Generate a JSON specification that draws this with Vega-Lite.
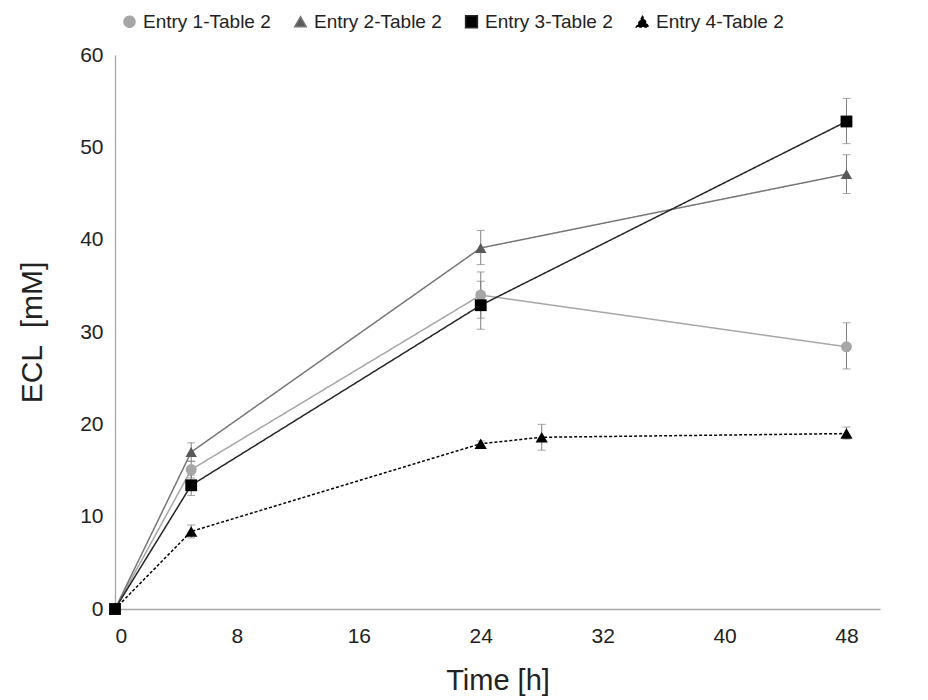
{
  "$schema": "https://vega.github.io/schema/vega-lite/v6.json",
  "width": 765,
  "height": 554,
  "autosize": "none",
  "padding": {"left": 115, "top": 55, "right": 48, "bottom": 91},
  "background": "white",
  "data": {
    "values": [
      {"series": "Entry 1-Table 2", "t": 0, "y": 0, "lo": null, "hi": null},
      {"series": "Entry 1-Table 2", "t": 5, "y": 15.1, "lo": 14.2, "hi": 16.0},
      {"series": "Entry 1-Table 2", "t": 24, "y": 34.0, "lo": 31.5, "hi": 36.5},
      {"series": "Entry 1-Table 2", "t": 48, "y": 28.4, "lo": 26.0, "hi": 31.0},
      {"series": "Entry 2-Table 2", "t": 0, "y": 0, "lo": null, "hi": null},
      {"series": "Entry 2-Table 2", "t": 5, "y": 17.0, "lo": 16.0, "hi": 18.0},
      {"series": "Entry 2-Table 2", "t": 24, "y": 39.1, "lo": 37.3, "hi": 41.0},
      {"series": "Entry 2-Table 2", "t": 48, "y": 47.1, "lo": 45.0, "hi": 49.2},
      {"series": "Entry 3-Table 2", "t": 0, "y": 0, "lo": null, "hi": null},
      {"series": "Entry 3-Table 2", "t": 5, "y": 13.4, "lo": 12.3, "hi": 14.5},
      {"series": "Entry 3-Table 2", "t": 24, "y": 32.9, "lo": 30.3, "hi": 35.5},
      {"series": "Entry 3-Table 2", "t": 48, "y": 52.8, "lo": 50.4, "hi": 55.3},
      {"series": "Entry 4-Table 2", "t": 0, "y": 0, "lo": null, "hi": null},
      {"series": "Entry 4-Table 2", "t": 5, "y": 8.4, "lo": 7.7, "hi": 9.1},
      {"series": "Entry 4-Table 2", "t": 24, "y": 17.9, "lo": 17.6, "hi": 18.2},
      {"series": "Entry 4-Table 2", "t": 28, "y": 18.6, "lo": 17.2, "hi": 20.0},
      {"series": "Entry 4-Table 2", "t": 48, "y": 19.0, "lo": 18.4, "hi": 19.7}
    ]
  },
  "config": {
    "view": {"stroke": null},
    "font": "Liberation Sans",
    "axis": {
      "grid": false,
      "ticks": false,
      "domainColor": "#a6a6a6",
      "domainWidth": 1.3,
      "labelColor": "#222222",
      "titleColor": "#222222",
      "titleFontWeight": "normal"
    }
  },
  "encoding": {
    "x": {
      "field": "t",
      "type": "quantitative",
      "scale": {"domain": [0, 50.2], "nice": false},
      "axis": {
        "values": [0, 8, 16, 24, 32, 40, 48],
        "title": "Time [h]",
        "titleFontSize": 29,
        "labelFontSize": 21,
        "labelPadding": 16,
        "titlePadding": 20
      }
    },
    "y": {
      "field": "y",
      "type": "quantitative",
      "scale": {"domain": [0, 60], "nice": false},
      "axis": {
        "values": [0, 10, 20, 30, 40, 50, 60],
        "title": "ECL\u00a0\u00a0[mM]",
        "titleFontSize": 30,
        "labelFontSize": 21,
        "labelPadding": 12,
        "titlePadding": 32
      }
    }
  },
  "layer": [
    {
      "mark": {"type": "line", "strokeWidth": 1.5},
      "encoding": {
        "stroke": {
          "field": "series",
          "type": "nominal",
          "scale": {
            "domain": ["Entry 1-Table 2", "Entry 2-Table 2", "Entry 3-Table 2", "Entry 4-Table 2"],
            "range": ["#a6a6a6", "#767676", "#262626", "#000000"]
          }
        },
        "strokeDash": {
          "field": "series",
          "type": "nominal",
          "scale": {
            "domain": ["Entry 1-Table 2", "Entry 2-Table 2", "Entry 3-Table 2", "Entry 4-Table 2"],
            "range": [[1, 0], [1, 0], [1, 0], [3, 2]]
          }
        }
      }
    },
    {
      "transform": [{"filter": "datum.lo != null"}],
      "mark": {"type": "rule", "color": "#7f7f7f", "strokeWidth": 1},
      "encoding": {
        "y": {"field": "lo", "type": "quantitative"},
        "y2": {"field": "hi"}
      }
    },
    {
      "transform": [{"filter": "datum.lo != null"}],
      "mark": {"type": "tick", "color": "#7f7f7f", "orient": "horizontal", "size": 8, "thickness": 1},
      "encoding": {
        "y": {"field": "lo", "type": "quantitative"}
      }
    },
    {
      "transform": [{"filter": "datum.lo != null"}],
      "mark": {"type": "tick", "color": "#7f7f7f", "orient": "horizontal", "size": 8, "thickness": 1},
      "encoding": {
        "y": {"field": "hi", "type": "quantitative"}
      }
    },
    {
      "mark": {"type": "point", "filled": true, "opacity": 1},
      "encoding": {
        "color": {
          "field": "series",
          "type": "nominal",
          "scale": {
            "domain": ["Entry 1-Table 2", "Entry 2-Table 2", "Entry 3-Table 2", "Entry 4-Table 2"],
            "range": ["#a6a6a6", "#595959", "#000000", "#000000"]
          },
          "legend": {
            "orient": "none",
            "legendX": 3,
            "legendY": -43,
            "direction": "horizontal",
            "title": null,
            "labelFontSize": 19,
            "labelColor": "#222222",
            "symbolOffset": 2,
            "columnPadding": 18,
            "labelLimit": 300
          }
        },
        "shape": {
          "field": "series",
          "type": "nominal",
          "scale": {
            "domain": ["Entry 1-Table 2", "Entry 2-Table 2", "Entry 3-Table 2", "Entry 4-Table 2"],
            "range": ["circle", "triangle-up", "square", "triangle-up"]
          }
        },
        "size": {
          "field": "series",
          "type": "nominal",
          "scale": {
            "domain": ["Entry 1-Table 2", "Entry 2-Table 2", "Entry 3-Table 2", "Entry 4-Table 2"],
            "range": [120, 150, 170, 150]
          }
        }
      }
    }
  ]
}
